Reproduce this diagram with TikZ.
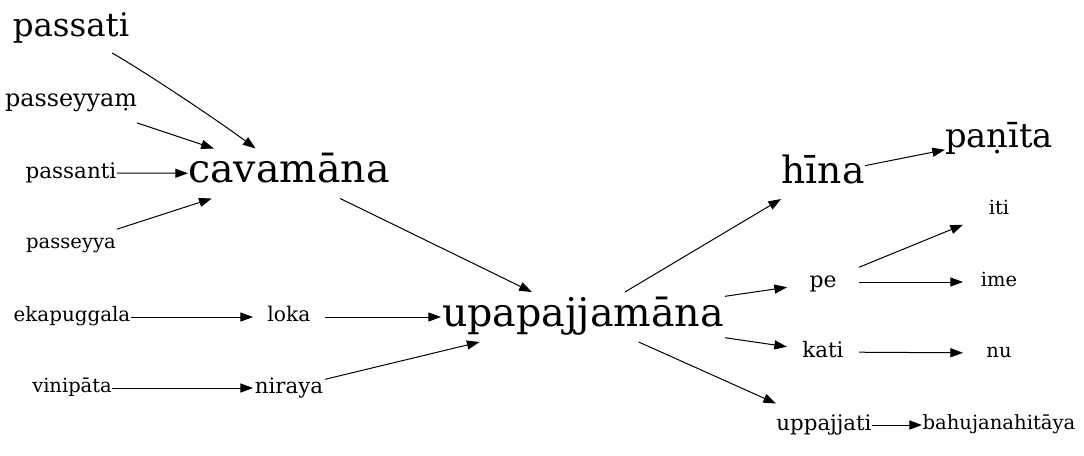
\documentclass[tikz,border=0pt]{standalone}
\usepackage{fontspec}
\setmainfont{DejaVu Serif}
\usetikzlibrary{arrows.meta}
\newcommand\fsz[1]{\fontsize{#1pt}{#1pt}\selectfont}
\newcommand\st{\rule[-0.36em]{0pt}{1.2em}}
\tikzset{
  nd/.style 2 args={font=\fsz{#1}, inner sep=0pt, outer sep=0pt,
    minimum width=#2*0.75pt, minimum height=36pt, draw=none, anchor=center},
  big/.style={minimum height=37.5pt},
  edge/.style={line width=0.75pt, -{Triangle[length=9.5pt,width=6.8pt]}}
}
\begin{document}
\begin{tikzpicture}[x=0.75pt,y=-0.75pt]
\useasboundingbox (0,0) rectangle (1084,455);
% left column
\node[nd={24.4}{118}] (passati) at (71,29) {\st passati};
\node[nd={17.9}{132}] (passeyyam) at (71,101) {\st passeyyaṃ};
\node[nd={16.1}{92}] (passanti) at (71,173) {\st passanti};
\node[nd={14.7}{92}] (passeyya) at (71,244) {\st passeyya};
\node[nd={14.9}{118}] (ekapuggala) at (72,317) {\st ekapuggala};
\node[nd={14.6}{80}] (vinipata) at (72,388) {\st vinipāta};
% second column
\node[nd={29.6}{202},big] (cavamana) at (289,173.5) {\st cavamāna};
\node[nd={15.2}{72}] (loka) at (289,317) {\st loka};
\node[nd={16}{72}] (niraya) at (289,388) {\st niraya};
% centre
\node[nd={29.7}{284},big] (upapajjamana) at (583,317) {\st upapajjamāna};
% fourth column
\node[nd={28.2}{84},big] (hina) at (823,174) {\st hīna};
\node[nd={16.4}{72}] (pe) at (823,282) {\st pe};
\node[nd={16}{72}] (kati) at (823,352) {\st kati};
\node[nd={16}{96}] (uppajjati) at (824,425) {\st uppajjati};
% fifth column
\node[nd={25.3}{108}] (panita) at (999,139) {\st paṇīta};
\node[nd={14.6}{72}] (iti) at (999,210) {\st iti};
\node[nd={14.6}{72}] (ime) at (999,282) {\st ime};
\node[nd={14.6}{72}] (nu) at (999,353) {\st nu};
\node[nd={14.7}{154}] (bahujanahitaya) at (999,425) {\st bahujanahitāya};
% edges
\draw[edge] (passati) .. controls (150,75) and (220,122) .. (cavamana);
\draw[edge] (passeyyam) -- (cavamana);
\draw[edge] (passanti) -- (cavamana);
\draw[edge] (passeyya) -- (cavamana);
\draw[edge] (cavamana) -- (upapajjamana);
\draw[edge] (ekapuggala) -- (loka);
\draw[edge] (loka) -- (upapajjamana);
\draw[edge] (vinipata) -- (niraya);
\draw[edge] (niraya) -- (upapajjamana);
\draw[edge] (upapajjamana) -- (hina);
\draw[edge] (upapajjamana) -- (pe);
\draw[edge] (upapajjamana) -- (kati);
\draw[edge] (upapajjamana) -- (uppajjati);
\draw[edge] (hina) -- (panita);
\draw[edge] (pe) -- (iti);
\draw[edge] (pe) -- (ime);
\draw[edge] (kati) -- (nu);
\draw[edge] (uppajjati) -- (bahujanahitaya);
\end{tikzpicture}
\end{document}
